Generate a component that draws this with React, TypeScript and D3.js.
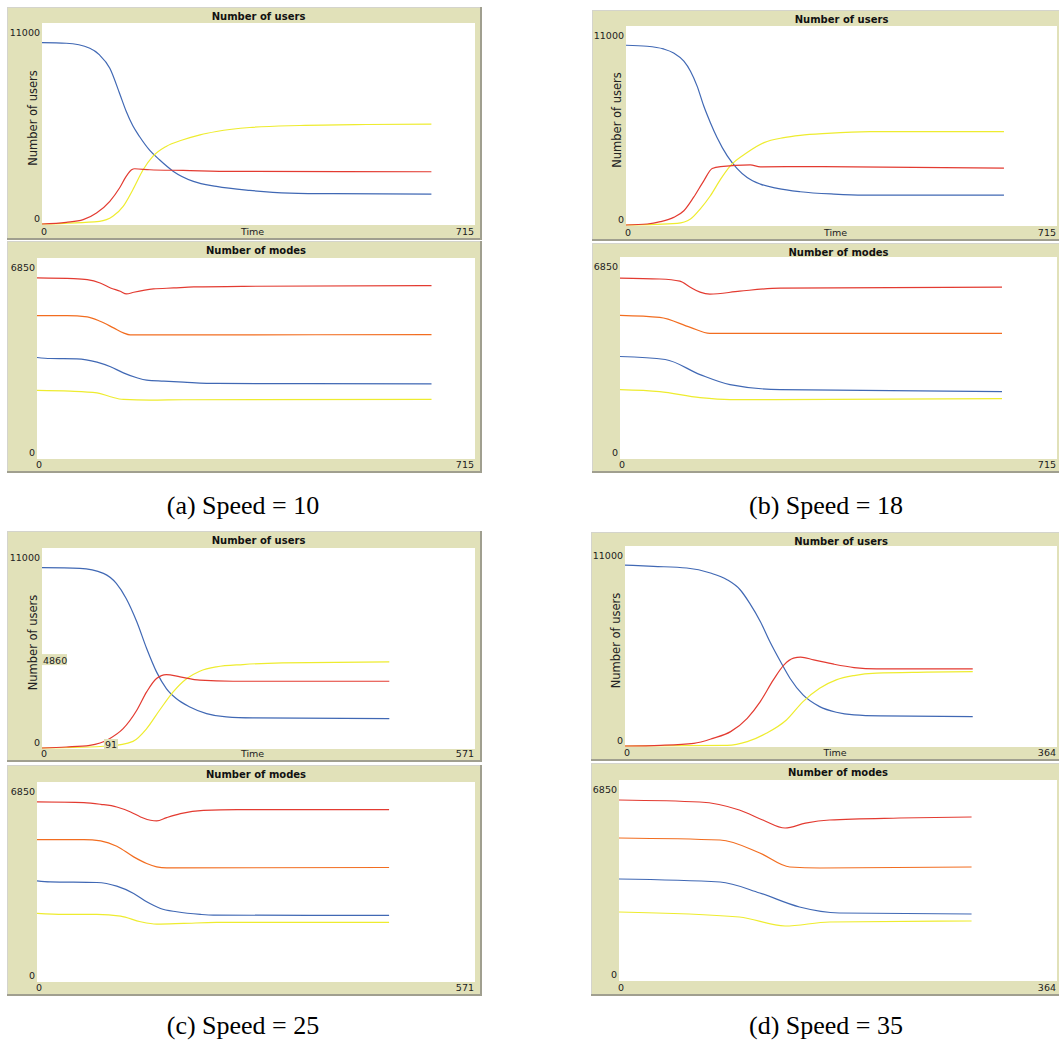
import React from "react";
import * as d3 from "d3";

type P = [number, number];

// ---------- (a) Speed = 10 ----------
const aUsersBlue: P[] = [[0,9975],[40,9940],[79,9664],[95,9298],[112,8566],[128,7193],[139,6200],[150,5400],[161,4814],[178,4050],[194,3532],[217,2892],[250,2343],[288,2068],[343,1849],[409,1702],[481,1666],[643,1647]];
const aUsersRed: P[] = [[0,0],[40,91],[68,238],[90,604],[112,1245],[128,1977],[139,2617],[148,2983],[153,3038],[178,2983],[233,2947],[316,2892],[643,2873]];
const aUsersYellow: P[] = [[0,0],[95,146],[117,421],[134,970],[150,1885],[167,2983],[183,3716],[205,4265],[233,4631],[261,4905],[288,5088],[343,5308],[426,5418],[536,5472],[643,5491]];
const aModesRed: P[] = [[0,6197],[60,6174],[82,6140],[103,6025],[120,5853],[136,5739],[146,5647],[158,5705],[190,5819],[223,5853],[256,5888],[337,5911],[644,5934]];
const aModesOrange: P[] = [[0,4903],[49,4903],[82,4857],[103,4708],[125,4479],[141,4307],[152,4238],[212,4238],[644,4250]];
const aModesBlue: P[] = [[0,3459],[22,3425],[65,3414],[98,3299],[120,3139],[141,2932],[163,2761],[179,2680],[207,2646],[239,2612],[294,2566],[644,2554]];
const aModesYellow: P[] = [[0,2325],[54,2302],[98,2245],[120,2108],[141,2016],[185,1993],[239,2005],[644,2016]];

// ---------- (b) Speed = 18 ----------
const bUsersBlue: P[] = [[0,9985],[35,9930],[62,9782],[79,9560],[96,9099],[107,8545],[118,7715],[129,6607],[140,5685],[151,4862],[168,3839],[184,3151],[201,2639],[223,2270],[251,2030],[289,1846],[345,1716],[394,1661],[627,1661]];
const bUsersRed: P[] = [[0,0],[35,55],[57,185],[79,424],[96,794],[112,1532],[129,2455],[143,3138],[157,3248],[206,3341],[223,3230],[311,3248],[627,3156]];
const bUsersYellow: P[] = [[0,0],[85,92],[107,332],[123,886],[140,1624],[157,2547],[173,3285],[201,4024],[229,4577],[262,4854],[289,4983],[334,5094],[405,5186],[627,5186]];
const bModesRed: P[] = [[0,6162],[65,6130],[98,6058],[115,5850],[131,5680],[147,5611],[196,5714],[262,5817],[625,5852]];
const bModesOrange: P[] = [[0,4888],[65,4819],[115,4475],[147,4268],[625,4268]];
const bModesBlue: P[] = [[0,3477],[74,3373],[131,2857],[180,2513],[262,2341],[625,2272]];
const bModesYellow: P[] = [[0,2341],[65,2272],[131,2065],[180,1997],[625,2031]];

// ---------- (c) Speed = 25 ----------
const cUsersBlue: P[] = [[0,9966],[50,9930],[81,9653],[98,9099],[111,8268],[125,6977],[138,5500],[151,4208],[164,3285],[177,2732],[195,2270],[217,1901],[243,1716],[278,1661],[458,1624]];
const cUsersRed: P[] = [[0,0],[32,55],[63,148],[89,517],[107,1070],[125,2086],[138,3101],[151,3839],[164,4060],[182,3931],[208,3747],[252,3691],[458,3691]];
const cUsersYellow: P[] = [[0,0],[89,111],[120,369],[138,1070],[155,2086],[173,3101],[191,3839],[208,4245],[230,4485],[265,4614],[317,4706],[458,4760]];
const cModesRed: P[] = [[0,6194],[61,6171],[83,6113],[104,6021],[122,5848],[135,5676],[148,5561],[156,5538],[169,5653],[187,5791],[217,5906],[261,5929],[459,5929]];
const cModesOrange: P[] = [[0,4893],[61,4893],[83,4847],[104,4663],[126,4294],[143,4064],[156,3949],[169,3914],[459,3926]];
const cModesBlue: P[] = [[0,3465],[17,3431],[78,3408],[104,3281],[126,3028],[143,2740],[161,2510],[182,2395],[213,2303],[230,2279],[459,2268]];
const cModesYellow: P[] = [[0,2337],[35,2303],[78,2303],[109,2245],[135,2049],[156,1969],[191,1992],[234,2026],[459,2026]];

// ---------- (d) Speed = 35 ----------
const dUsersBlue: P[] = [[0,10000],[24,9930],[52,9838],[72,9560],[86,9191],[97,8638],[105,7899],[114,6884],[122,5777],[131,4669],[139,3747],[150,2824],[164,2178],[178,1864],[193,1716],[215,1661],[293,1624]];
const dUsersRed: P[] = [[0,0],[30,37],[58,148],[74,424],[89,794],[103,1532],[114,2455],[125,3654],[134,4485],[142,4854],[148,4909],[159,4762],[176,4522],[193,4337],[212,4263],[293,4263]];
const dUsersYellow: P[] = [[0,0],[86,37],[103,240],[119,701],[136,1440],[150,2455],[164,3193],[178,3654],[193,3894],[212,4024],[254,4079],[293,4116]];
const dModesRed: P[] = [[0,6196],[67,6127],[100,5850],[120,5500],[138,5232],[155,5400],[175,5508],[233,5577],[293,5611]];
const dModesOrange: P[] = [[0,4888],[84,4819],[117,4372],[142,3890],[167,3855],[293,3890]];
const dModesBlue: P[] = [[0,3477],[84,3373],[117,2995],[150,2513],[183,2306],[293,2272]];
const dModesYellow: P[] = [[0,2341],[100,2169],[138,1859],[175,1997],[293,2031]];

// axis maxima and captions
const usersMax = 11000;
const modesMax = 6850;
const xMaxes = [715, 715, 571, 364];
const captions = ["(a) Speed = 10", "(b) Speed = 18", "(c) Speed = 25", "(d) Speed = 35"];
const tipY = 4860;
const tipX = 91;

const C = { blue: "#4068b4", red: "#e33b31", yellow: "#eeec2f", orange: "#f26d20" };

interface Series { data: P[]; color: string }
interface Spec {
  frame: [number, number, number, number];
  plot: [number, number, number, number];
  xMax: number;
  yMax: number;
  title: string;
  users: boolean;
  series: Series[];
  tips?: boolean;
}

const FONT = "DejaVu Sans, Verdana, sans-serif";

function Plot({ s }: { s: Spec }) {
  const [fx0, fy0, fx1, fy1] = s.frame;
  const [px0, pyTop, px1, pyBot] = s.plot;
  const x = d3.scaleLinear().domain([0, s.xMax]).range([px0, px1]);
  const y = d3.scaleLinear().domain([0, s.yMax]).range([pyBot, pyTop]);
  const line = d3.line<P>().x(d => x(d[0])).y(d => y(d[1])).curve(d3.curveMonotoneX);
  const labelFs = 9.5;
  return (
    <g>
      <rect x={fx0} y={fy0} width={fx1 - fx0} height={fy1 - fy0} fill="#e1e1b9" />
      <line x1={fx0} y1={fy0 + 0.5} x2={fx1} y2={fy0 + 0.5} stroke="#d4d4cc" />
      <line x1={fx0 + 0.5} y1={fy0} x2={fx0 + 0.5} y2={fy1} stroke="#d4d4cc" />
      <line x1={fx0} y1={fy1 - 1} x2={fx1} y2={fy1 - 1} stroke="#a09f8f" strokeWidth={2} />
      <line x1={fx1 - 1} y1={fy0} x2={fx1 - 1} y2={fy1} stroke="#a09f8f" strokeWidth={2} />
      <rect x={px0} y={pyTop - 1} width={px1 - px0} height={pyBot - pyTop + 2} fill="#ffffff" />
      <text x={(px0 + px1) / 2} y={fy0 + 13} textAnchor="middle" fontFamily={FONT} fontWeight="bold" fontSize={10} fill="#111">{s.title}</text>
      <text x={px0 - 2} y={pyTop + 12} textAnchor="end" fontFamily={FONT} fontSize={labelFs} fill="#222">{s.yMax}</text>
      <text x={px0 - 2} y={pyBot - 2} textAnchor="end" fontFamily={FONT} fontSize={labelFs} fill="#222">0</text>
      <text x={px0 + 2} y={fy1 - 5} textAnchor="middle" fontFamily={FONT} fontSize={labelFs} fill="#222">0</text>
      <text x={px1 - 1} y={fy1 - 5} textAnchor="end" fontFamily={FONT} fontSize={labelFs} fill="#222">{s.xMax}</text>
      {s.users && (
        <>
          <text x={(px0 + px1) / 2 - 6} y={fy1 - 5} textAnchor="middle" fontFamily={FONT} fontSize={labelFs} fill="#222">Time</text>
          <text transform={`translate(${px0 - 9},${(pyTop + pyBot) / 2 - 6}) rotate(-90)`} textAnchor="middle" dominantBaseline="central" fontFamily={FONT} fontSize={11.5} fill="#222">Number of users</text>
        </>
      )}
      {s.series.map((se, i) => (
        <path key={i} d={line(se.data) || ""} fill="none" stroke={se.color} strokeWidth={1.2} />
      ))}
      {s.tips && (
        <>
          <rect x={px0} y={y(tipY) - 6} width={25} height={11} fill="#e1e1b9" />
          <text x={px0 + 1} y={y(tipY) + 4} fontFamily={FONT} fontSize={labelFs} fill="#222">{tipY}</text>
          <rect x={x(tipX) - 7} y={pyBot - 9} width={14} height={10} fill="#e1e1b9" />
          <text x={x(tipX)} y={pyBot} textAnchor="middle" fontFamily={FONT} fontSize={labelFs} fill="#222">{tipX}</text>
        </>
      )}
    </g>
  );
}

const usersSeries = (b: P[], r: P[], yv: P[]): Series[] => [
  { data: b, color: C.blue }, { data: yv, color: C.yellow }, { data: r, color: C.red },
];
const modesSeries = (r: P[], o: P[], b: P[], yv: P[]): Series[] => [
  { data: r, color: C.red }, { data: o, color: C.orange }, { data: b, color: C.blue }, { data: yv, color: C.yellow },
];

const specs: Spec[] = [
  { frame: [7, 7, 482, 240], plot: [42, 24, 475, 224], xMax: xMaxes[0], yMax: usersMax, title: "Number of users", users: true, series: usersSeries(aUsersBlue, aUsersRed, aUsersYellow) },
  { frame: [7, 241, 482, 473], plot: [37, 259, 475, 458], xMax: xMaxes[0], yMax: modesMax, title: "Number of modes", users: false, series: modesSeries(aModesRed, aModesOrange, aModesBlue, aModesYellow) },
  { frame: [592, 10, 1066, 241], plot: [626, 27, 1057, 225], xMax: xMaxes[1], yMax: usersMax, title: "Number of users", users: true, series: usersSeries(bUsersBlue, bUsersRed, bUsersYellow) },
  { frame: [592, 243, 1066, 473], plot: [620, 258, 1057, 458], xMax: xMaxes[1], yMax: modesMax, title: "Number of modes", users: false, series: modesSeries(bModesRed, bModesOrange, bModesBlue, bModesYellow) },
  { frame: [7, 531, 482, 762], plot: [42, 549, 475, 748], xMax: xMaxes[2], yMax: usersMax, title: "Number of users", users: true, series: usersSeries(cUsersBlue, cUsersRed, cUsersYellow), tips: true },
  { frame: [7, 765, 482, 996], plot: [37, 783, 475, 981], xMax: xMaxes[2], yMax: modesMax, title: "Number of modes", users: false, series: modesSeries(cModesRed, cModesOrange, cModesBlue, cModesYellow) },
  { frame: [591, 532, 1066, 761], plot: [625, 547, 1057, 746], xMax: xMaxes[3], yMax: usersMax, title: "Number of users", users: true, series: usersSeries(dUsersBlue, dUsersRed, dUsersYellow) },
  { frame: [591, 763, 1066, 996], plot: [619, 781, 1057, 980], xMax: xMaxes[3], yMax: modesMax, title: "Number of modes", users: false, series: modesSeries(dModesRed, dModesOrange, dModesBlue, dModesYellow) },
];

const captionPos: [number, number][] = [[243, 514], [826, 514], [243, 1034], [826, 1034]];

export default function App() {
  return (
    <div style={{ position: "absolute", left: 0, top: 0 }}>
      <svg width={1059} height={1046} viewBox="0 0 1059 1046" style={{ display: "block", background: "#fff" }}>
        {specs.map((s, i) => <Plot key={i} s={s} />)}
        {captions.map((c, i) => (
          <text key={i} x={captionPos[i][0]} y={captionPos[i][1]} textAnchor="middle" fontFamily="'Liberation Serif', 'Times New Roman', serif" fontSize={26} fill="#000">{c}</text>
        ))}
      </svg>
    </div>
  );
}
